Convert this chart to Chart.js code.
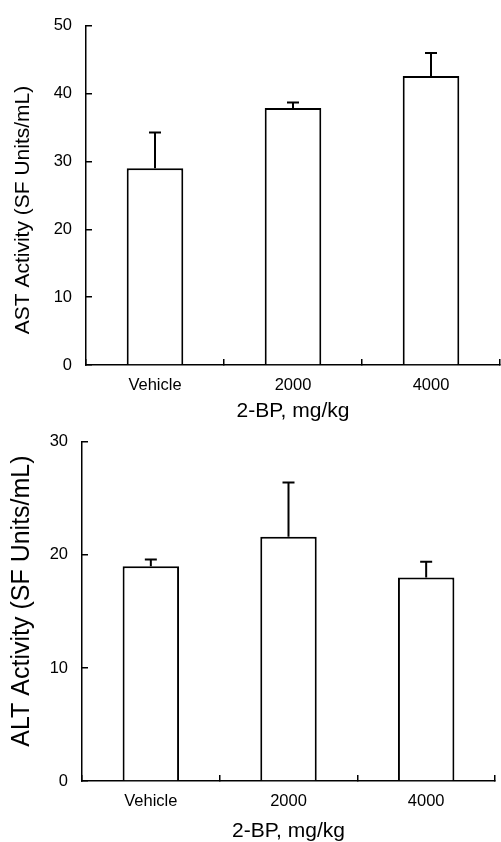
<!DOCTYPE html>
<html>
<head>
<meta charset="utf-8">
<script src="https://cdn.jsdelivr.net/npm/chart.js@4.4.0/dist/chart.umd.min.js"></script>
<style>
  html, body { margin: 0; padding: 0; background: #fff; }
  body { width: 501px; height: 842px; position: relative; overflow: hidden; }
  canvas { position: absolute; left: 0; }
  #c1 { top: -4px; }
  #c2 { top: 412px; }
</style>
</head>
<body>
<canvas id="c1" width="501" height="426"></canvas>
<canvas id="c2" width="501" height="430"></canvas>
<script>
// ---- data ----
const categories = ['Vehicle', '2000', '4000'];
const astMeans = [29.0, 37.9, 42.6];
const astErrors = [5.3, 0.8, 3.4];
const altMeans = [19.0, 21.6, 18.0];
const altErrors = [0.6, 4.8, 1.4];
const astTicks = [0, 10, 20, 30, 40, 50];
const altTicks = [0, 10, 20, 30];
const xTitle = '2-BP, mg/kg';
const astTitle = 'AST Activity (SF Units/mL)';
const altTitle = 'ALT Activity (SF Units/mL)';

const errorBarPlugin = {
  id: 'errorBars',
  afterDatasetsDraw(chart, args, opts) {
    const ctx = chart.ctx;
    const xs = chart.scales.x, ys = chart.scales.y;
    const means = chart.data.datasets[0].data;
    const errs = opts.errors || [];
    ctx.save();
    ctx.strokeStyle = '#000';
    ctx.lineWidth = 2;
    means.forEach((m, i) => {
      const x = xs.getPixelForValue(i);
      const yb = ys.getPixelForValue(m);
      const yt = ys.getPixelForValue(m + errs[i]);
      ctx.beginPath();
      ctx.moveTo(x, yb);
      ctx.lineTo(x, yt);
      ctx.moveTo(x - 6, yt);
      ctx.lineTo(x + 6, yt);
      ctx.stroke();
    });
    ctx.restore();
  }
};

function makeChart(id, means, errs, ticks, yTitleText, cfg) {
  const yMax = ticks[ticks.length - 1];
  return new Chart(document.getElementById(id), {
    type: 'bar',
    data: {
      labels: categories,
      datasets: [{
        data: means,
        backgroundColor: '#fff',
        borderColor: '#000',
        borderWidth: 2,
        borderSkipped: 'start',
        categoryPercentage: 1.0,
        barPercentage: 0.41
      }]
    },
    plugins: [errorBarPlugin],
    options: {
      responsive: false,
      animation: false,
      layout: { padding: cfg.padding },
      plugins: {
        legend: { display: false },
        tooltip: { enabled: false },
        errorBars: { errors: errs }
      },
      scales: {
        x: {
          offset: true,
          grid: {
            display: true, drawOnChartArea: false, drawTicks: true,
            tickLength: -6, color: '#000', lineWidth: 1.5, offset: true
          },
          border: { display: true, color: '#000', width: 1.5 },
          ticks: {
            color: '#000', padding: 17,
            font: { family: 'Liberation Sans, Arial, sans-serif', size: 16.5 }
          },
          title: {
            display: true, text: xTitle, color: '#000',
            font: { family: 'Liberation Sans, Arial, sans-serif', size: 21, lineHeight: 1 },
            padding: { top: 0, bottom: 0 }
          },
          afterFit(scale) { scale.height = cfg.xHeight; }
        },
        y: {
          min: 0, max: yMax,
          afterBuildTicks(scale) { scale.ticks = ticks.map(v => ({ value: v })); },
          grid: {
            display: true, drawOnChartArea: false, drawTicks: true,
            tickLength: -6, color: '#000', lineWidth: 1.5
          },
          border: { display: true, color: '#000', width: 1.5 },
          ticks: {
            color: '#000', padding: 20,
            font: { family: 'Liberation Sans, Arial, sans-serif', size: 16.5 }
          },
          title: {
            display: true, text: yTitleText, color: '#000',
            font: { family: 'Liberation Sans, Arial, sans-serif', size: cfg.yTitleSize, lineHeight: 1 },
            padding: { top: cfg.yTitlePad, bottom: 0 }
          },
          afterFit(scale) { scale.width = cfg.yWidth; }
        }
      }
    }
  });
}

makeChart('c1', astMeans, astErrors, astTicks, astTitle + '\u00a0\u00a0\u00a0\u00a0\u00a0', {
  padding: { top: 29, right: 1, left: 0, bottom: 0 },
  xHeight: 57, yWidth: 86, yTitleSize: 21, yTitlePad: 12.5
});
makeChart('c2', altMeans, altErrors, altTicks, '\u00a0\u00a0\u00a0' + altTitle, {
  padding: { top: 29, right: 6, left: 0, bottom: 0 },
  xHeight: 61, yWidth: 82, yTitleSize: 25, yTitlePad: 10
});
</script>
</body>
</html>
